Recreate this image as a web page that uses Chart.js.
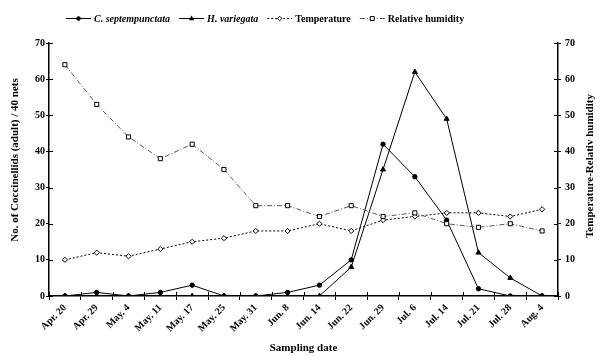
<!DOCTYPE html>
<html>
<head>
<meta charset="utf-8">
<script src="https://cdn.jsdelivr.net/npm/chart.js@4.4.0/dist/chart.umd.min.js"></script>
<style>
  body { margin: 0; background: #fff; }
  #wrap { width: 613px; height: 356px; }
</style>
</head>
<body>
<div id="wrap"><canvas id="coccChart" width="613" height="356"></canvas></div>
<script>
const dates = ['Apr. 20', 'Apr. 29', 'May. 4', 'May. 11', 'May. 17', 'May. 25', 'May. 31', 'Jun. 8',
    'Jun. 14', 'Jun. 22', 'Jun. 29', 'Jul. 6', 'Jul. 14', 'Jul. 21', 'Jul. 28', 'Aug. 4'];
const septempunctata = [0, 1, 0, 1, 3, 0, 0, 1, 3, 10, 42, 33, 21, 2, 0, 0];
const variegata = [0, 0, 0, 0, 0, 0, 0, 0, 0, 8, 35, 62, 49, 12, 5, 0];
const temperature = [10, 12, 11, 13, 15, 16, 18, 18, 20, 18, 21, 22, 23, 23, 22, 24];
const humidity = [64, 53, 44, 38, 42, 35, 25, 25, 22, 25, 22, 23, 20, 19, 20, 18];
const yTicks = [0, 10, 20, 30, 40, 50, 60, 70];

const serif = "'Liberation Serif', 'Times New Roman', serif";

// legend entries: label, italic?, dash, marker
const legendItems = [
    { text: 'C. septempunctata', italic: true, dash: [], marker: 'circle', color: '#000' },
    { text: 'H. variegata', italic: true, dash: [], marker: 'triangle', color: '#000' },
    { text: 'Temperature', italic: false, dash: [2, 2], marker: 'diamond', color: '#000' },
    { text: 'Relative humidity', italic: false, dash: [5, 2, 1, 2], marker: 'square', color: '#555' }
];

function drawMarker(ctx, type, x, y) {
    ctx.save();
    ctx.setLineDash([]);
    ctx.lineWidth = 1;
    ctx.strokeStyle = '#000';
    ctx.beginPath();
    if (type === 'circle') {
        ctx.arc(x, y, 2.2, 0, Math.PI * 2);
        ctx.fillStyle = '#000';
        ctx.fill();
    } else if (type === 'triangle') {
        ctx.moveTo(x, y - 3);
        ctx.lineTo(x + 2.7, y + 1.8);
        ctx.lineTo(x - 2.7, y + 1.8);
        ctx.closePath();
        ctx.fillStyle = '#000';
        ctx.fill();
    } else if (type === 'diamond') {
        ctx.moveTo(x, y - 2.2);
        ctx.lineTo(x + 2.2, y);
        ctx.lineTo(x, y + 2.2);
        ctx.lineTo(x - 2.2, y);
        ctx.closePath();
        ctx.fillStyle = '#fff';
        ctx.fill();
        ctx.stroke();
    } else {
        ctx.rect(x - 2, y - 2, 4, 4);
        ctx.fillStyle = '#fff';
        ctx.fill();
        ctx.stroke();
    }
    ctx.restore();
}

const extrasPlugin = {
    id: 'extras',
    afterDraw(chart) {
        const ctx = chart.ctx;
        const area = chart.chartArea;

        // inner half of the crossing tick marks
        ctx.save();
        ctx.strokeStyle = '#000';
        ctx.lineWidth = 1;
        const x = chart.scales.x;
        for (let i = 0; i <= dates.length; i++) {
            const px = Math.round(x.getPixelForValue(i - 0.5)) + 0.5;
            ctx.beginPath();
            ctx.moveTo(px, area.bottom);
            ctx.lineTo(px, area.bottom - 4);
            ctx.stroke();
        }
        ['y', 'y1'].forEach(id => {
            const s = chart.scales[id];
            const dir = id === 'y' ? 1 : -1;
            const ax = id === 'y' ? area.left : area.right;
            yTicks.forEach(v => {
                const py = Math.round(s.getPixelForValue(v)) + 0.5;
                ctx.beginPath();
                ctx.moveTo(ax, py);
                ctx.lineTo(ax + dir * 4, py);
                ctx.stroke();
            });
        });
        ctx.restore();

        // vertical axis titles, reading bottom to top
        ctx.save();
        ctx.fillStyle = '#000';
        ctx.font = 'bold 11px ' + serif;
        ctx.textAlign = 'center';
        ctx.textBaseline = 'middle';
        ctx.translate(15, 160);
        ctx.rotate(-Math.PI / 2);
        ctx.fillText('No. of Coccinellids (adult) / 40 nets', 0, 0);
        ctx.restore();

        ctx.save();
        ctx.fillStyle = '#000';
        ctx.font = 'bold 11px ' + serif;
        ctx.textAlign = 'center';
        ctx.textBaseline = 'middle';
        ctx.translate(590, 166);
        ctx.rotate(-Math.PI / 2);
        ctx.fillText('Temperature-Relativ humidity', 0, 0);
        ctx.restore();

        // legend row
        ctx.save();
        let lx = 66;
        const ly = 18;
        legendItems.forEach(item => {
            ctx.strokeStyle = item.color;
            ctx.lineWidth = 1;
            ctx.setLineDash(item.dash);
            ctx.beginPath();
            ctx.moveTo(lx, ly + 0.5);
            ctx.lineTo(lx + 25, ly + 0.5);
            ctx.stroke();
            drawMarker(ctx, item.marker, lx + 12.5, ly + 0.5);
            lx += 28;
            ctx.font = (item.italic ? 'italic ' : '') + 'bold 10px ' + serif;
            ctx.fillStyle = '#000';
            ctx.textBaseline = 'middle';
            ctx.textAlign = 'left';
            ctx.fillText(item.text, lx, ly + 1);
            lx += ctx.measureText(item.text).width + 9;
        });
        ctx.restore();
    }
};

const tickFont = { family: serif, size: 10, weight: 'bold' };

new Chart(document.getElementById('coccChart'), {
    type: 'line',
    data: {
        labels: dates,
        datasets: [
            {
                label: 'Relative humidity',
                data: humidity,
                yAxisID: 'y1',
                borderColor: '#555',
                borderWidth: 1,
                borderDash: [5, 2, 1, 2],
                pointStyle: 'rect',
                pointRadius: 2.9,
                pointBackgroundColor: '#fff',
                pointBorderColor: '#000',
                pointBorderWidth: 1,
                tension: 0
            },
            {
                label: 'Temperature',
                data: temperature,
                yAxisID: 'y1',
                borderColor: '#000',
                borderWidth: 1,
                borderDash: [2, 2],
                pointStyle: 'rectRot',
                pointRadius: 2.6,
                pointBackgroundColor: '#fff',
                pointBorderColor: '#000',
                pointBorderWidth: 1,
                tension: 0
            },
            {
                label: 'C. septempunctata',
                data: septempunctata,
                yAxisID: 'y',
                borderColor: '#000',
                borderWidth: 1,
                pointStyle: 'circle',
                pointRadius: 2.2,
                pointBackgroundColor: '#000',
                pointBorderColor: '#000',
                tension: 0
            },
            {
                label: 'H. variegata',
                data: variegata,
                yAxisID: 'y',
                borderColor: '#000',
                borderWidth: 1,
                pointStyle: 'triangle',
                pointRadius: 2.9,
                pointBackgroundColor: '#000',
                pointBorderColor: '#000',
                tension: 0
            }
        ]
    },
    options: {
        responsive: false,
        animation: false,
        layout: { padding: { top: 43, left: 0, right: 0, bottom: 0 } },
        plugins: {
            legend: { display: false },
            tooltip: { enabled: false }
        },
        scales: {
            x: {
                offset: true,
                grid: { offset: true, drawOnChartArea: false, tickLength: 4, color: '#000', lineWidth: 1 },
                border: { display: true, color: '#000', width: 1.5 },
                ticks: { font: tickFont, color: '#000', minRotation: 45, maxRotation: 45, padding: 2, autoSkip: false },
                title: { display: true, text: 'Sampling date', font: { family: serif, size: 11, weight: 'bold' }, color: '#000', padding: { top: 0, bottom: 1 } },
                afterFit(scale) { scale.height = 60; }
            },
            y: {
                position: 'left',
                min: 0,
                max: 70,
                grid: { drawOnChartArea: false, tickLength: 3, color: '#000', lineWidth: 1 },
                border: { display: true, color: '#000', width: 1.5 },
                ticks: { stepSize: 10, font: tickFont, color: '#000', padding: 1 },
                afterFit(scale) { scale.width = 49; }
            },
            y1: {
                position: 'right',
                min: 0,
                max: 70,
                grid: { drawOnChartArea: false, tickLength: 3, color: '#000', lineWidth: 1 },
                border: { display: true, color: '#000', width: 1.5 },
                ticks: { stepSize: 10, font: tickFont, color: '#000', padding: 4 },
                afterFit(scale) { scale.width = 55; }
            }
        }
    },
    plugins: [extrasPlugin]
});
</script>
</body>
</html>
